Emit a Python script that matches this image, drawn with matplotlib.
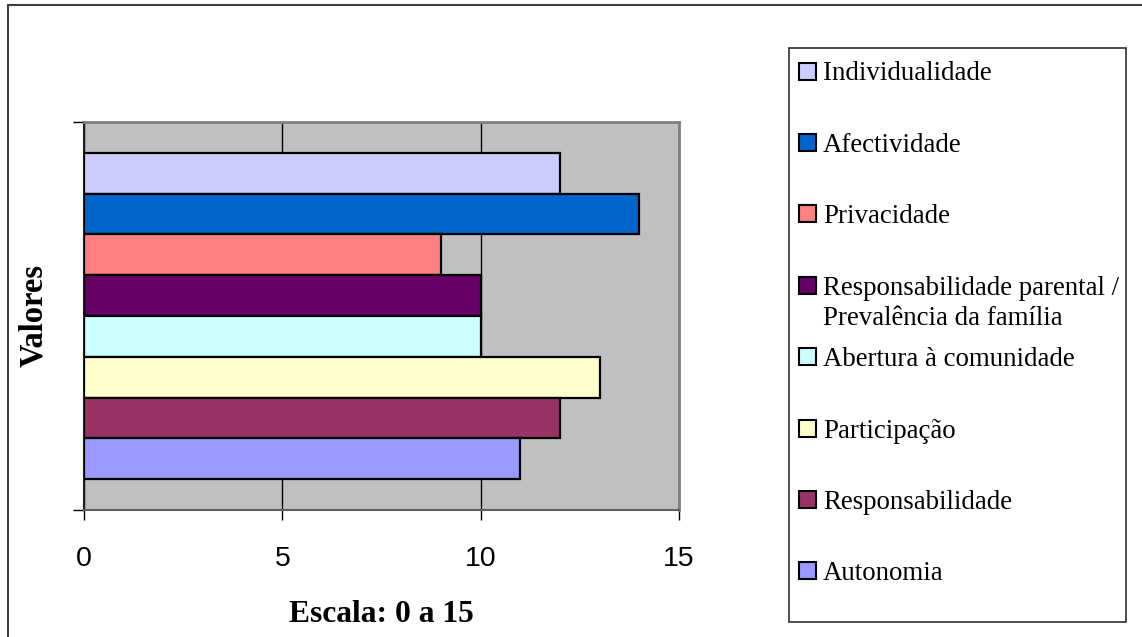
import matplotlib
matplotlib.use("Agg")
import matplotlib.pyplot as plt
from matplotlib.patches import Rectangle
from matplotlib.lines import Line2D
import numpy as np

categories = ["Individualidade", "Afectividade", "Privacidade",
              "Responsabilidade parental /\nPrevalência da família",
              "Abertura à comunidade", "Participação", "Responsabilidade", "Autonomia"]
values = [12, 14, 9, 10, 10, 13, 12, 11]
colors = ["#CCCCFF", "#0066CC", "#FF8080", "#660066",
          "#CCFFFF", "#FFFFCC", "#993366", "#9999FF"]
xticks = [0, 5, 10, 15]
xlabel = "Escala: 0 a 15"
ylabel = "Valores"

W, H = 1142, 637
fig = plt.figure(figsize=(W / 100, H / 100), dpi=100)
fig.patch.set_facecolor("white")

def fx(px):
    return px / W

def fy(py):
    return 1 - py / H

ax = fig.add_axes([fx(84), fy(510), fx(679) - fx(84), fy(122) - fy(510)])
ax.set_facecolor("#C0C0C0")

n = len(categories)
ypos = np.arange(n)[::-1]
ax.barh(ypos, values, height=1.0, color=colors, edgecolor="black", linewidth=1.6, zorder=3)

ax.set_xlim(0, 15)
ylo, yhi = -1.26, n - 1 + 1.26
ax.set_ylim(ylo, yhi)

ax.set_xticks(xticks)
ax.set_xticklabels([str(t) for t in xticks], fontfamily="Liberation Sans", fontsize=20.5)
ax.tick_params(axis="x", direction="out", length=7.2, width=1, color="black", pad=19)
ax.set_yticks([ylo, yhi])
ax.set_yticklabels([])
ax.tick_params(axis="y", direction="out", length=7.9, width=1, color="black")

ax.grid(axis="x", color="black", linewidth=1, zorder=1)
ax.set_axisbelow(True)

for side in ["top", "right"]:
    ax.spines[side].set_color("#808080")
    ax.spines[side].set_linewidth(2)
ax.spines["left"].set_color("#202020")
ax.spines["left"].set_linewidth(1.5)
ax.spines["bottom"].set_color("#606060")
ax.spines["bottom"].set_linewidth(1.5)

fig.text(fx(381), fy(622), xlabel, ha="center", va="baseline",
         fontfamily="Liberation Serif", fontweight="bold", fontsize=22.7)
fig.text(fx(33.5), fy(315.5), ylabel, ha="center", va="center", rotation=90,
         fontfamily="Liberation Serif", fontweight="bold", fontsize=23.5)

# outer chart border (top and left visible)
fig.add_artist(Line2D([fx(8), fx(8)], [0, fy(5)], transform=fig.transFigure,
                      color="#404040", linewidth=1.5))
fig.add_artist(Line2D([fx(8), 1], [fy(5), fy(5)], transform=fig.transFigure,
                      color="#404040", linewidth=1.5))

# legend box
fig.add_artist(Rectangle((fx(789), fy(622)), fx(1126) - fx(789), fy(48) - fy(622),
                         transform=fig.transFigure, facecolor="white",
                         edgecolor="#303030", linewidth=1.2))
slot0, step = 71, 71.4
sq = 17
for i, (lab, col) in enumerate(zip(categories, colors)):
    yc = slot0 + i * step
    fig.add_artist(Rectangle((fx(799), fy(yc + sq / 2)), sq / W, sq / H,
                             transform=fig.transFigure, facecolor=col,
                             edgecolor="black", linewidth=1.5))
    for j, line in enumerate(lab.split("\n")):
        fig.text(fx(823), fy(yc + 9.5 + j * 30), line, ha="left", va="baseline",
                 fontfamily="Liberation Serif", fontsize=19.4)

fig.savefig("out.png", dpi=100, facecolor="white")
